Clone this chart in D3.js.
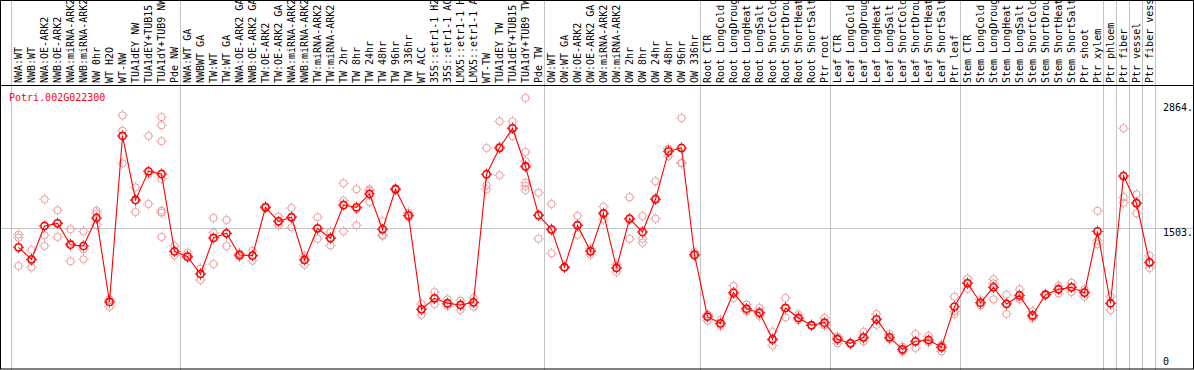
<!DOCTYPE html>
<html>
<head>
<meta charset="utf-8">
<script src="https://cdn.jsdelivr.net/npm/d3@7"></script>
<style>
    html, body { margin: 0; padding: 0; background: #fff; }
    svg { display: block; }
    text { font-family: "DejaVu Sans Mono", monospace; font-size: 10px; }
</style>
</head>
<body>
<div id="chart"></div>
<script>
(function () {

    // --- Expression profile for one gene across sample conditions ---

    const geneName = "Potri.002G022300";

    const samples = [
        "NWA:WT", "NWB:WT", "NWA:OE-ARK2", "NWB:OE-ARK2", "NWA:miRNA-ARK2", "NWB:miRNA-ARK2",
        "NW 0hr", "WT H2O", "WT-NW", "TUA1dEY NW", "TUA1dEY+TUB15 NW", "TUA1dY+TUB9 NW", "Pde NW",
        "NWA:WT GA", "NWBWT GA", "TW:WT", "TW:WT GA", "NWA:OE-ARK2 GA", "NWB:OE-ARK2 GA",
        "TW:OE-ARK2", "TW:OE-ARK2 GA", "NWA:miRNA-ARK2 GA", "NWB:miRNA-ARK2 GA", "TW:miRNA-ARK2",
        "TW:miRNA-ARK2", "TW 2hr", "TW 8hr", "TW 24hr", "TW 48hr", "TW 96hr", "TW 336hr", "WT ACC",
        "35S::etr1-1 H2O", "35S::etr1-1 ACC", "LMX5::etr1-1 H2O", "LMX5::etr1-1 ACC", "WT-TW",
        "TUA1dEY TW", "TUA1dEY+TUB15 TW", "TUA1dY+TUB9 TW", "Pde TW",
        "OW:WT", "OW:WT GA", "OW:OE-ARK2", "OW:OE-ARK2 GA", "OW:miRNA-ARK2", "OW:miRNA-ARK2",
        "OW 2hr", "OW 8hr", "OW 24hr", "OW 48hr", "OW 96hr", "OW 336hr",
        "Root CTR", "Root LongCold", "Root LongDrought", "Root LongHeat", "Root LongSalt",
        "Root ShortCold", "Root ShortDrought", "Root ShortHeat", "Root ShortSalt", "Ptr root",
        "Leaf CTR", "Leaf LongCold", "Leaf LongDrought", "Leaf LongHeat", "Leaf LongSalt",
        "Leaf ShortCold", "Leaf ShortDrought", "Leaf ShortHeat", "Leaf ShortSalt", "Ptr leaf",
        "Stem CTR", "Stem LongCold", "Stem LongDrought", "Stem LongHeat", "Stem LongSalt",
        "Stem ShortCold", "Stem ShortDrought", "Stem ShortHeat", "Stem ShortSalt", "Ptr shoot",
        "Ptr xylem", "Ptr phloem", "Ptr fiber", "Ptr vessel", "Ptr fiber vessel"
    ];

    // mean expression per sample
    const means = [
        1297, 1166, 1528, 1557, 1325, 1311, 1615, 703, 2506, 1811, 2122, 2093, 1253,
        1195, 1007, 1398, 1449, 1213, 1206, 1731, 1579, 1623, 1159, 1503, 1395, 1756,
        1731, 1876, 1492, 1927, 1644, 623, 743, 689, 670, 699, 2090, 2375, 2589, 2177, 1644,
        1492, 1080, 1536, 1253, 1666, 1072, 1608, 1463, 1818, 2339, 2375, 1217,
        543, 471, 804, 630, 587, 298, 638, 529, 450, 478,
        298, 254, 319, 515, 319, 189, 276, 290, 211, 652,
        906, 695, 862, 681, 775, 558, 782, 841, 862, 804, 1470,
        689, 2071, 1775, 1134
    ];

    // individual replicate values per sample
    const replicates = [
        [1434, 1401, 1094], [1268, 1150, 1080], [1818, 1427, 1311], [1699, 1563, 1409],
        [1492, 1338, 1145], [1470, 1275, 1166], [1694, 1666, 1542], [732, 725, 652],
        [2730, 2563, 2209], [1948, 1805, 1680], [2506, 2093, 1767],
        [2709, 2622, 2448, 2042, 1694, 1673, 1409], [1311, 1253, 1210],
        [1238, 1210, 1181], [1064, 1007, 942], [1615, 1455, 1115], [1593, 1449, 1311],
        [1231, 1213, 1195], [1260, 1206, 1151], [1742, 1731, 1720], [1629, 1579, 1536],
        [1724, 1631, 1514], [1202, 1167, 1108], [1623, 1496, 1390], [1463, 1404, 1318],
        [1992, 1803, 1470], [1927, 1710, 1536], [1927, 1912, 1789], [1579, 1434, 1420],
        [1941, 1927, 1919], [1673, 1637, 1622], [681, 623, 565], [811, 737, 681],
        [732, 676, 659], [717, 677, 616], [746, 699, 652], [2375, 1970, 1927],
        [2665, 2390, 2079], [2665, 2596, 2506], [2918, 2332, 2231, 2166, 1999, 1963, 1919],
        [1890, 1652, 1390],
        [1767, 1477, 1232], [1085, 1080, 1075], [1637, 1537, 1434], [1282, 1260, 1217],
        [1738, 1659, 1601], [1108, 1079, 1029], [1840, 1594, 1390], [1637, 1390, 1347],
        [2014, 1832, 1608], [2368, 2361, 2288], [2701, 2215, 2209], [1246, 1203, 1202],
        [565, 564, 500], [507, 464, 442], [877, 789, 746], [673, 616, 601], [638, 572, 551],
        [377, 285, 232], [746, 632, 536], [565, 518, 504], [455, 450, 445], [529, 455, 450],
        [326, 314, 254], [260, 254, 248], [377, 304, 276], [572, 517, 456], [355, 304, 298],
        [217, 183, 167], [355, 270, 203], [333, 268, 268], [240, 225, 167], [760, 601, 572],
        [956, 915, 847], [724, 695, 667], [949, 905, 732], [782, 690, 572], [841, 752, 732],
        [601, 545, 529], [790, 782, 775], [877, 841, 797], [912, 862, 811], [841, 811, 760],
        [1694, 1369, 1333],
        [760, 689, 616], [2589, 1840, 1781], [1872, 1787, 1666], [1206, 1124, 1072]
    ];

    const yTicks = [0, 1503, 2864];
    const refLine = 1503;              // grey reference line
    // sample indices where a group divider is drawn (before that sample)
    const dividers = [0, 13, 41, 53, 63, 73, 84, 85, 86, 87, 88];

    // 1. Setup
    const width = 1194, height = 370;
    const headerBottom = 85;           // labels sit above this line
    const svg = d3.select("#chart").append("svg")
        .attr("width", width)
        .attr("height", height);

    svg.append("rect").attr("width", width).attr("height", height).attr("fill", "#fff");

    const x = d3.scaleBand()
        .domain(d3.range(samples.length))
        .range([12, 1156]);

    const y = d3.scaleLinear()
        .domain([0, 2864])
        .range([366.7, 103]);

    const cx = i => x(i) + x.bandwidth() / 2;
    const crisp = v => Math.round(v) + 0.5;

    // 2. Grid lines
    const bx = k => (k < samples.length ? x(k) : x.range()[1]) - 1.5;
    svg.append("g").selectAll("line")
        .data(dividers)
        .join("line")
        .attr("x1", k => crisp(bx(k))).attr("x2", k => crisp(bx(k)))
        .attr("y1", 0).attr("y2", height)
        .attr("stroke", "#c4c4c4")
        .attr("stroke-width", 1);

    svg.append("line")
        .attr("x1", 0).attr("x2", width)
        .attr("y1", crisp(y(refLine) - 0.5)).attr("y2", crisp(y(refLine) - 0.5))
        .attr("stroke", "#c4c4c4");

    // 3. Sample labels (rotated)
    svg.append("g").selectAll("text")
        .data(samples)
        .join("text")
        .attr("transform", (d, i) => `translate(${cx(i)},${headerBottom - 2}) rotate(-90)`)
        .attr("dy", "0.36em")
        .attr("fill", "#000")
        .text(d => d);

    // frame and header separator
    svg.append("line")
        .attr("x1", 0).attr("x2", width)
        .attr("y1", headerBottom + 0.5).attr("y2", headerBottom + 0.5)
        .attr("stroke", "#000");
    svg.append("rect")
        .attr("x", 0.5).attr("y", 0.5)
        .attr("width", width - 1).attr("height", height - 1.5)
        .attr("fill", "none")
        .attr("stroke", "#000");

    // 4. Y tick labels on the right
    svg.append("g").selectAll("text")
        .data(yTicks)
        .join("text")
        .attr("x", 1163)
        .attr("y", d => Math.min(y(d) + 7.5, 365))
        .attr("fill", "#000")
        .text(d => d === 0 ? "0" : d + ".");

    // gene name
    svg.append("text")
        .attr("x", 9).attr("y", 101)
        .attr("fill", "#ff0000")
        .text(geneName);

    // 5. Markers
    const marker = (g, px, py, color, sw) => {
        g.append("circle")
            .attr("cx", px).attr("cy", py).attr("r", 3.6)
            .attr("fill", "none")
            .attr("stroke", color)
            .attr("stroke-width", sw);
        const t = 3.6 + sw / 2;
        g.append("path")
            .attr("d", `M${px},${py - t}v-1.2M${px},${py + t}v1.2M${px - t},${py}h-1.2M${px + t},${py}h1.2`)
            .attr("stroke", color)
            .attr("stroke-width", 1);
    };

    const repG = svg.append("g");
    replicates.forEach((reps, i) => {
        reps.forEach(v => marker(repG, cx(i), y(v), "#ec9a9a", 1));
    });

    const line = d3.line()
        .x((d, i) => cx(i))
        .y(d => y(d));

    svg.append("path")
        .datum(means)
        .attr("d", line)
        .attr("fill", "none")
        .attr("stroke", "#ff0000")
        .attr("stroke-width", 1.1);

    const meanG = svg.append("g");
    means.forEach((v, i) => marker(meanG, cx(i), y(v), "#ff0000", 1.6));

})();
</script>
</body>
</html>
